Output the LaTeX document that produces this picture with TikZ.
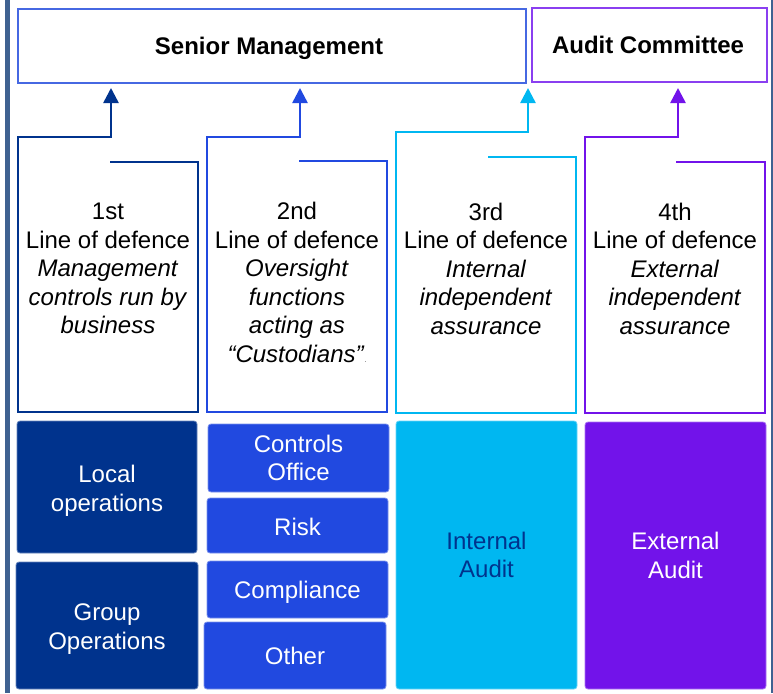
\documentclass[tikz,border=0pt]{standalone}
\usepackage{fontspec}
\setmainfont{Liberation Sans}
\usetikzlibrary{arrows.meta}

\definecolor{frameblue}{RGB}{63,98,145}
\definecolor{navy}{RGB}{0,51,141}
\definecolor{royal}{RGB}{33,73,224}
\definecolor{sky}{RGB}{0,183,241}
\definecolor{violet}{RGB}{114,19,234}
\definecolor{smedge}{RGB}{70,104,226}
\definecolor{acedge}{RGB}{138,63,240}

\begin{document}
\begin{tikzpicture}[x=1pt,y=-1pt,
  bigfont/.style={font=\fontsize{24}{28.5}\selectfont},
  head/.style={font=\fontsize{24}{28.5}\selectfont\bfseries, line width=1.5pt,
    inner sep=0pt, text=black},
  txt/.style={bigfont, align=center, inner sep=0pt, text=black},
  outline/.style={line width=2.5pt, -{Triangle[width=15pt,length=15pt]}},
  tile/.style={bigfont, align=center, inner sep=0pt, rounded corners=3pt,
    line width=0.8pt, text=white},
]
\useasboundingbox (0,0) rectangle (773,693);

% side rules of the frame
\draw[frameblue, line width=5pt] (7.5,0) -- (7.5,693);
\draw[frameblue, line width=2pt] (772,0) -- (772,693);

% governing bodies
\node[head, draw=smedge, minimum width=508pt, minimum height=74pt] (sm) at (272,46) {};
\node[head, draw=acedge, minimum width=235pt, minimum height=74pt] (ac) at (649.5,45) {};
\node[head, anchor=base] (smlabel) at (269,54.5) {Senior Management};
\node[head, anchor=base] (aclabel) at (648,54) {Audit Committee};

% arrow targets below the governing bodies
\coordinate (t1) at (111,88);
\coordinate (t2) at (300,88);
\coordinate (t3) at (528,88);
\coordinate (t4) at (678,88);

% notched outlines of the four lines of defence, each rising into its arrow
\coordinate (s1) at (110,162);
\coordinate (s2) at (299,161);
\coordinate (s3) at (488,157);
\coordinate (s4) at (676,162);
\draw[outline, navy]   (s1) -| (198,412) -| (18,137) -| (t1);
\draw[outline, royal]  (s2) -| (387,412) -| (207,137) -| (t2);
\draw[outline, sky]    (s3) -| (576,413) -| (396,132) -| (t3);
\draw[outline, violet] (s4) -| (765,413) -| (585,137) -| (t4);

% descriptions
\node[txt] (d1) at (108,268.5) {1st\\Line of defence\\\textit{Management}\\\textit{controls run by}\\\textit{business}};
\node[txt] (d2) at (297,282.5) {2nd\\Line of defence\\\textit{Oversight}\\\textit{functions}\\\textit{acting as}\\\textit{“Custodians”}{\fontsize{7}{7}\selectfont\color{darkgray}.}};
\node[txt] (d3) at (486,268.5) {3rd\\Line of defence\\\textit{Internal}\\\textit{independent}\\\textit{assurance}};
\node[txt] (d4) at (675,268.5) {4th\\Line of defence\\\textit{External}\\\textit{independent}\\\textit{assurance}};

% functions in each line
\node[tile, fill=navy, draw=navy!60!white, minimum width=180pt, minimum height=132pt] (local) at (107,487) {};
\node[tile] (locallabel) at (107,491) {Local\\operations};
\node[tile, fill=navy, draw=navy!60!white, minimum width=182pt, minimum height=127pt] (group) at (107,625.5) {};
\node[tile] (grouplabel) at (107,629) {Group\\Operations};

\node[tile, fill=royal, draw=royal!60!white, minimum width=181pt, minimum height=68pt] (ctrl) at (298.5,458) {Controls\\Office};
\node[tile, fill=royal, draw=royal!60!white, minimum width=181pt, minimum height=55pt] (risk) at (297.5,525.5) {};
\node[tile] (risklabel) at (297.5,527) {Risk};
\node[tile, fill=royal, draw=royal!60!white, minimum width=181pt, minimum height=57pt] (comp) at (297.5,589.5) {};
\node[tile] (complabel) at (297.5,592.5) {Compliance};
\node[tile, fill=royal, draw=royal!60!white, minimum width=182pt, minimum height=67pt] (other) at (295,655.5) {Other};

\node[tile, fill=sky, draw=sky!60!white, text=navy, minimum width=181pt, minimum height=268pt] (ia) at (486.5,555) {Internal\\Audit};
\node[tile, fill=violet, draw=violet!60!white, minimum width=181pt, minimum height=267pt] (ea) at (675.5,555.5) {External\\Audit};
\end{tikzpicture}
\end{document}
